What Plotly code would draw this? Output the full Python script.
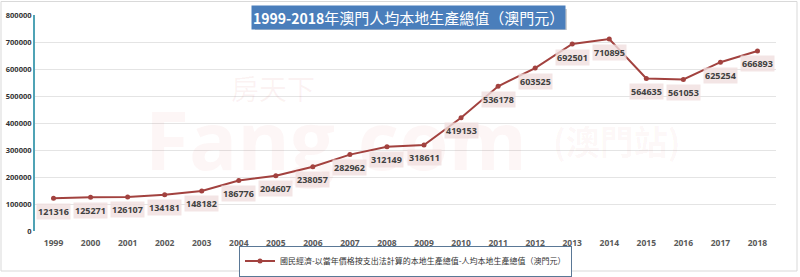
import plotly.graph_objects as go

years = [str(y) for y in range(1999, 2019)]
gdp_per_capita = [121316, 125271, 126107, 134181, 148182, 186776, 204607, 238057,
                  282962, 312149, 318611, 419153, 536178, 603525, 692501, 710895,
                  564635, 561053, 625254, 666893]
y_ticks = [0, 100000, 200000, 300000, 400000, 500000, 600000, 700000, 800000]
series_name = "國民經濟-以當年價格按支出法計算的本地生產總值-人均本地生產總值（澳門元）"
title_text = "1999-2018年澳門人均本地生產總值（澳門元）"

LINE = "#a2423f"
W, H = 800, 277
ML, MR, MT, MB = 35, 24, 15, 46
PW, PH = W - ML - MR, H - MT - MB

def px2x(px):
    return (px - ML) / PW

def px2y(py):
    return (H - MB - py) / PH

fig = go.Figure()
fig.add_trace(go.Scatter(
    x=years, y=gdp_per_capita, mode="lines+markers", name=series_name,
    line=dict(color=LINE, width=2),
    marker=dict(color=LINE, size=5),
))

annotations = []
# watermarks (faint)
annotations += [
    dict(x=px2x(273), y=px2y(88), xref="paper", yref="paper", text="房天下", showarrow=False,
         xanchor="center", yanchor="middle",
         font=dict(family="Noto Sans CJK TC", size=28, color="rgba(200,60,60,0.06)")),
    dict(x=px2x(336), y=px2y(138), xref="paper", yref="paper", text="<b>Fang.com</b>", showarrow=False,
         xanchor="center", yanchor="middle",
         font=dict(family="Open Sans", size=80, color="rgba(210,40,40,0.045)")),
    dict(x=px2x(617), y=px2y(140), xref="paper", yref="paper", text="<b>(澳門站)</b>", showarrow=False,
         xanchor="center", yanchor="middle",
         font=dict(family="Noto Sans CJK TC", size=34, color="rgba(200,60,60,0.045)")),
]

for i, v in enumerate(gdp_per_capita):
    annotations.append(dict(
        x=i, y=v, xref="x", yref="y", text="<b>%d</b>" % v, showarrow=False,
        xanchor="center", yanchor="middle",
        yshift=-13, bgcolor="rgba(240,222,222,0.8)", borderpad=1,
        font=dict(family="Open Sans", size=9, color="#404040"),
    ))

# title
annotations.append(dict(
    x=px2x(408.5), y=px2y(17.5), xref="paper", yref="paper", showarrow=False,
    xanchor="center", yanchor="middle",
    text="<b><span style='font-size:14px'>1999-2018</span></b>年澳門人均本地生產總值（澳門元）",
    bgcolor="#4a7ebb", borderpad=1,
    font=dict(family="Noto Sans CJK TC", size=15, color="white"),
))

shapes = [
    # outer frame
    dict(type="rect", xref="paper", yref="paper", x0=px2x(1), x1=px2x(797), y0=px2y(271), y1=px2y(1.5),
         line=dict(color="#d9d9d9", width=1), fillcolor="rgba(0,0,0,0)", layer="below"),
    # title shadow
    dict(type="rect", xref="paper", yref="paper", x0=px2x(255), x1=px2x(567), y0=px2y(30), y1=px2y(9),
         line=dict(width=0), fillcolor="rgba(120,120,120,0.35)", layer="above"),
]

fig.update_layout(
    width=W, height=H,
    margin=dict(l=ML, r=MR, t=MT, b=MB, autoexpand=False),
    paper_bgcolor="white", plot_bgcolor="white",
    showlegend=True,
    legend=dict(orientation="h", x=0.5, xanchor="center", y=px2y(261), yanchor="middle",
                bordercolor="#5a7896", borderwidth=1, bgcolor="white",
                font=dict(family="Noto Sans CJK TC", size=8, color="#333333"),
                itemwidth=30, tracegroupgap=0, entrywidthmode="pixels"),
    xaxis=dict(type="category", range=[-0.5, 19.5], showgrid=False, showline=False,
               ticks="", ticklabelstandoff=5,
               tickfont=dict(family="Open Sans", size=8.5, color="#595959", weight="bold")),
    yaxis=dict(range=[0, 800000], tickvals=y_ticks, tickformat="d", showgrid=True,
               gridcolor="#e4e4e4", gridwidth=1, zeroline=False,
               showline=True, linecolor="#4fa3b5", linewidth=2,
               tickfont=dict(family="Open Sans", size=7.5, color="#333333", weight="bold")),
    annotations=annotations,
    shapes=shapes,
)

fig.write_html("out.html")
